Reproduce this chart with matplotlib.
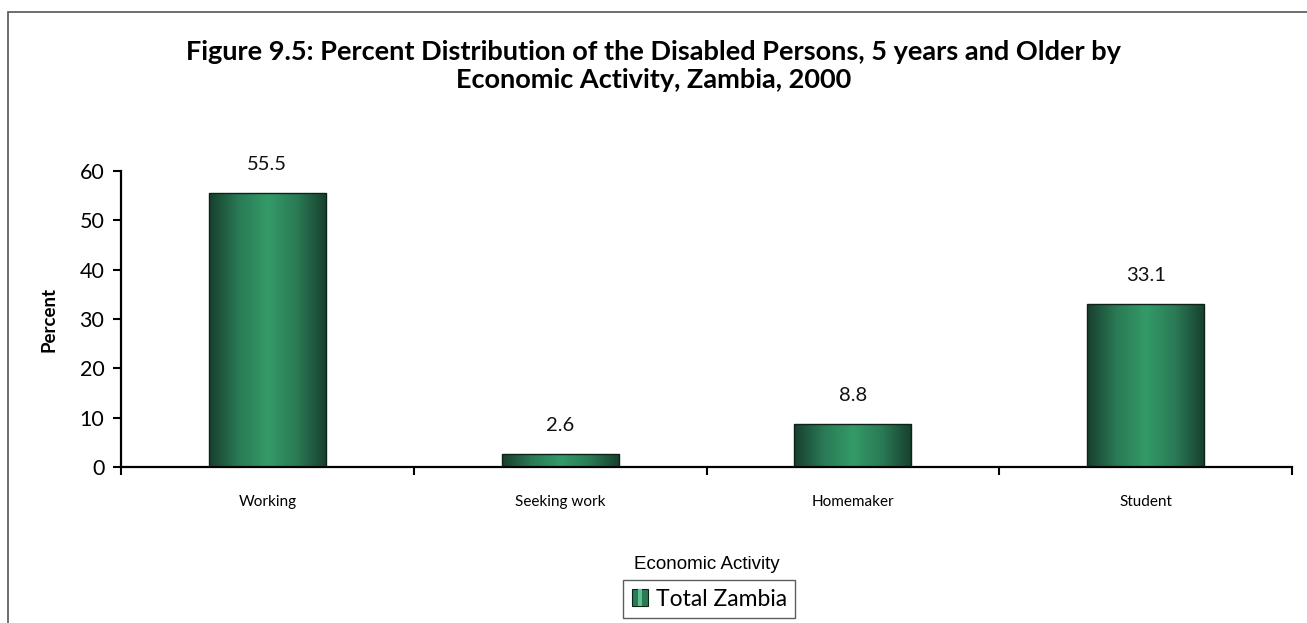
import matplotlib
matplotlib.use("Agg")
import matplotlib.pyplot as plt
import matplotlib.patches as mpatches
from matplotlib.colors import LinearSegmentedColormap
from matplotlib.legend_handler import HandlerPatch
import numpy as np

# ── Data ─────────────────────────────────────────────────────────────────────
categories = ["Working", "Seeking work", "Homemaker", "Student"]
values = [55.5, 2.6, 8.8, 33.1]
series_name = "Total Zambia"
y_ticks = [0, 10, 20, 30, 40, 50, 60]

TITLE = ("Figure 9.5: Percent Distribution of the Disabled Persons, 5 years and Older by\n"
         "Economic Activity, Zambia, 2000")

# green cylinder-style gradient: dark edges, light middle
grad_cmap = LinearSegmentedColormap.from_list(
    "bar", ["#173f2d", "#2a7a55", "#349a68", "#2a7a55", "#173f2d"])
grad = np.linspace(0, 1, 256).reshape(1, -1)

fig = plt.figure(figsize=(13.07, 6.23), dpi=100)
ax = fig.add_axes([121 / 1307, 1 - 467 / 623, (1292 - 121) / 1307, (467 - 171) / 623])

# outer figure frame
fig.patches.append(mpatches.Rectangle((8 / 1307, -0.05), 1.2, 1 - 12 / 623 + 0.05,
                                      transform=fig.transFigure, fill=False,
                                      edgecolor="#555555", linewidth=1.2))

x = np.arange(len(categories))
bars = ax.bar(x, values, width=0.4, color="none", edgecolor="#0d2219",
              linewidth=1.0, zorder=3)
for b in bars:
    x0, y0 = b.get_x(), b.get_y()
    im = ax.imshow(grad, cmap=grad_cmap, aspect="auto", zorder=2,
                   extent=(x0, x0 + b.get_width(), y0, y0 + b.get_height()))
    im.set_clip_path(b)

for xi, v in zip(x, values):
    ax.text(xi, v + 4.0, f"{v:.1f}", ha="center", va="bottom",
            fontsize=14.5, family="Lato", color="#111111")

ax.set_xlim(-0.5, len(categories) - 0.5)
ax.set_ylim(0, 60)
ax.set_yticks(y_ticks)
ax.set_yticklabels([str(t) for t in y_ticks], fontsize=15.5, family="Lato")
ax.set_xticks(x)
ax.set_xticklabels(categories, fontsize=11, family="Lato")
ax.tick_params(axis="x", length=0, pad=20)
ax.set_xticks(np.arange(len(categories) + 1) - 0.5, minor=True)
ax.tick_params(axis="x", which="minor", length=6, width=1.5, direction="out")
ax.tick_params(axis="y", length=6, width=1.5, direction="out", pad=6)

for side in ("top", "right"):
    ax.spines[side].set_visible(False)
for side in ("left", "bottom"):
    ax.spines[side].set_linewidth(1.6)

ax.set_xlabel("Economic Activity", fontsize=13.5, family="Liberation Sans", labelpad=34)
ax.set_ylabel("Percent", fontsize=13.5, family="Lato", fontweight="bold", labelpad=16)

fig.text(0.5, 1 - 66 / 623, TITLE, ha="center", va="center", fontsize=19.5,
         fontweight="bold", family="Lato", linespacing=1.25)


class GradHandler(HandlerPatch):
    def create_artists(self, legend, orig, xdescent, ydescent, width, height, fontsize, trans):
        s = height
        r = mpatches.Rectangle((-xdescent + (width - s) / 2, -ydescent), s, s,
                               facecolor="#2a7a55", edgecolor="#0d2219", linewidth=0.8,
                               transform=trans)
        stripe = mpatches.Rectangle((-xdescent + (width - s) / 2 + s * 0.4, -ydescent),
                                    s * 0.25, s, facecolor="#5fc08e", edgecolor="none",
                                    transform=trans)
        return [r, stripe]


handle = mpatches.Patch(facecolor="#2a7a55", label=series_name)
leg = fig.legend(handles=[handle], loc="center", bbox_to_anchor=(709 / 1307, 1 - 599 / 623),
                 frameon=True, fancybox=False, edgecolor="#333333",
                 prop={"family": "Lato", "size": 16.5}, handlelength=0.8,
                 handletextpad=0.3, borderpad=0.35,
                 handler_map={mpatches.Patch: GradHandler()})
leg.get_frame().set_linewidth(1.0)

plt.savefig("out.png", dpi=100)
